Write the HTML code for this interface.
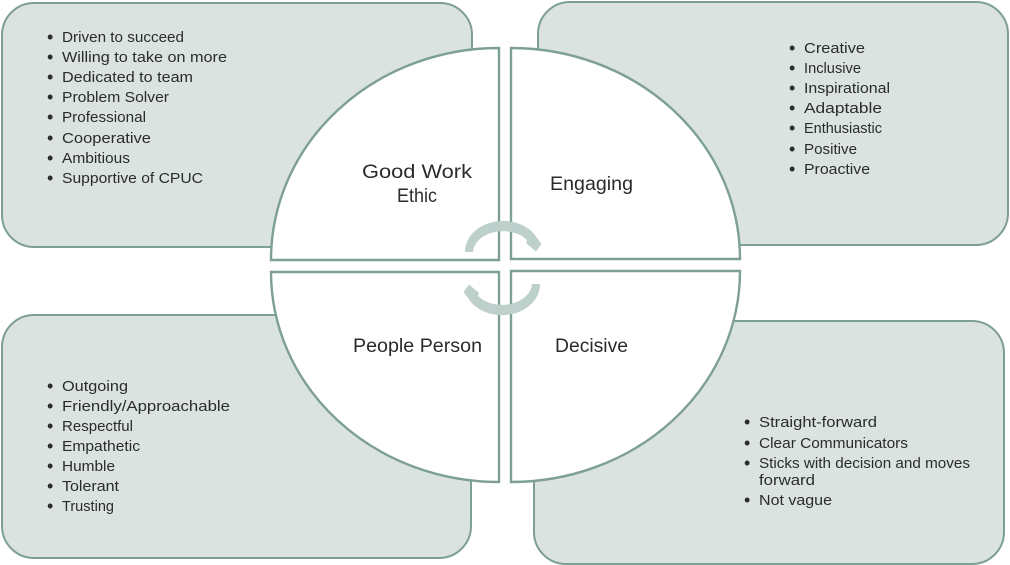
<!DOCTYPE html>
<html>
<head>
<meta charset="utf-8">
<style>
html,body{margin:0;padding:0;background:#fff;width:1010px;height:565px;overflow:hidden}
svg{display:block}
text{font-family:"Liberation Sans",sans-serif;fill:#2b2b2b}
.t{font-size:15px}
.d{font-size:18px;fill:#222}
.h{font-size:19.5px}
.b{fill:#dbe3e0;stroke:#7d9f94;stroke-width:2}
.q{fill:#fff;stroke:#7d9f94;stroke-width:2.4}
</style>
</head>
<body>
<svg width="1010" height="565" viewBox="0 0 1010 565" xmlns="http://www.w3.org/2000/svg">
<rect class="b" x="2" y="3" width="470" height="244" rx="32"/>
<rect class="b" x="538" y="2" width="470" height="243" rx="32"/>
<rect class="b" x="2" y="315" width="469" height="243" rx="32"/>
<rect class="b" x="534" y="321" width="470" height="243" rx="32"/>

<path class="q" d="M499 260H271A228 212 0 0 1 499 48Z"/>
<path class="q" d="M511 259V48A229 211 0 0 1 740 259Z"/>
<path class="q" d="M499 272H271A228 210 0 0 0 499 482Z"/>
<path class="q" d="M511 271V482A229 211 0 0 0 740 271Z"/>

<path id="a1" d="M465 252A38 31 0 0 1 537 238L541.5 244L536 251.5L526 243L527 240A30 22 0 0 0 473 252Z" fill="#bdd0cb"/>
<path d="M465 252A38 31 0 0 1 537 238L541.5 244L536 251.5L526 243L527 240A30 22 0 0 0 473 252Z" fill="#bdd0cb" transform="rotate(180 502.5 268)"/>

<g class="d">
<text x="47" y="43">•</text><text x="47" y="63">•</text><text x="47" y="83">•</text><text x="47" y="103">•</text><text x="47" y="123">•</text><text x="47" y="144">•</text><text x="47" y="164">•</text><text x="47" y="184">•</text>
<text x="789" y="54">•</text><text x="789" y="74">•</text><text x="789" y="94">•</text><text x="789" y="114">•</text><text x="789" y="134">•</text><text x="789" y="155">•</text><text x="789" y="175">•</text>
<text x="47" y="392">•</text><text x="47" y="412">•</text><text x="47" y="432">•</text><text x="47" y="452">•</text><text x="47" y="472">•</text><text x="47" y="492">•</text><text x="47" y="512">•</text>
<text x="744" y="428">•</text><text x="744" y="449">•</text><text x="744" y="469">•</text><text x="744" y="506">•</text>
</g>

<g class="t">
<text x="62" y="42" textLength="122" lengthAdjust="spacingAndGlyphs">Driven to succeed</text>
<text x="62" y="62" textLength="165" lengthAdjust="spacingAndGlyphs">Willing to take on more</text>
<text x="62" y="82" textLength="131" lengthAdjust="spacingAndGlyphs">Dedicated to team</text>
<text x="62" y="102" textLength="107" lengthAdjust="spacingAndGlyphs">Problem Solver</text>
<text x="62" y="122" textLength="84" lengthAdjust="spacingAndGlyphs">Professional</text>
<text x="62" y="143" textLength="89" lengthAdjust="spacingAndGlyphs">Cooperative</text>
<text x="62" y="163" textLength="68" lengthAdjust="spacingAndGlyphs">Ambitious</text>
<text x="62" y="183" textLength="141" lengthAdjust="spacingAndGlyphs">Supportive of CPUC</text>

<text x="804" y="53" textLength="61" lengthAdjust="spacingAndGlyphs">Creative</text>
<text x="804" y="73" textLength="57" lengthAdjust="spacingAndGlyphs">Inclusive</text>
<text x="804" y="93" textLength="86" lengthAdjust="spacingAndGlyphs">Inspirational</text>
<text x="804" y="113" textLength="78" lengthAdjust="spacingAndGlyphs">Adaptable</text>
<text x="804" y="133" textLength="78" lengthAdjust="spacingAndGlyphs">Enthusiastic</text>
<text x="804" y="154" textLength="53" lengthAdjust="spacingAndGlyphs">Positive</text>
<text x="804" y="174" textLength="66" lengthAdjust="spacingAndGlyphs">Proactive</text>

<text x="62" y="391" textLength="66" lengthAdjust="spacingAndGlyphs">Outgoing</text>
<text x="62" y="411" textLength="168" lengthAdjust="spacingAndGlyphs">Friendly/Approachable</text>
<text x="62" y="431" textLength="71" lengthAdjust="spacingAndGlyphs">Respectful</text>
<text x="62" y="451" textLength="78" lengthAdjust="spacingAndGlyphs">Empathetic</text>
<text x="62" y="471" textLength="53" lengthAdjust="spacingAndGlyphs">Humble</text>
<text x="62" y="491" textLength="57" lengthAdjust="spacingAndGlyphs">Tolerant</text>
<text x="62" y="511" textLength="52" lengthAdjust="spacingAndGlyphs">Trusting</text>

<text x="759" y="427" textLength="118" lengthAdjust="spacingAndGlyphs">Straight-forward</text>
<text x="759" y="448" textLength="149" lengthAdjust="spacingAndGlyphs">Clear Communicators</text>
<text x="759" y="468" textLength="211" lengthAdjust="spacingAndGlyphs">Sticks with decision and moves</text>
<text x="759" y="485" textLength="56" lengthAdjust="spacingAndGlyphs">forward</text>
<text x="759" y="505" textLength="73" lengthAdjust="spacingAndGlyphs">Not vague</text>
</g>

<g class="h">
<text x="362" y="178" textLength="110" lengthAdjust="spacingAndGlyphs">Good Work</text>
<text x="397" y="202" textLength="40" lengthAdjust="spacingAndGlyphs">Ethic</text>
<text x="550" y="190" textLength="83" lengthAdjust="spacingAndGlyphs">Engaging</text>
<text x="353" y="352" textLength="129" lengthAdjust="spacingAndGlyphs">People Person</text>
<text x="555" y="352" textLength="73" lengthAdjust="spacingAndGlyphs">Decisive</text>
</g>
</svg>
</body>
</html>
